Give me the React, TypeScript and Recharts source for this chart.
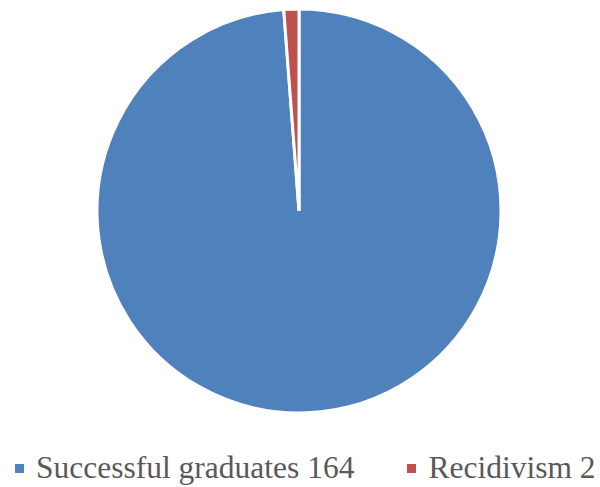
import { PieChart, Pie, Cell, Legend } from "recharts";

const categories: Array<string> = ["Successful graduates", "Recidivism"];
const counts: Array<number> = [164, 2];
const colors: Array<string> = ["#4F81BD", "#C0504D"];

const data = categories.map((name, i) => ({
  name: name + " " + counts[i],
  value: counts[i],
}));

// legend drawn by hand so the order stays as in the data
const renderLegend = () => (
  <div
    style={{
      display: "flex",
      alignItems: "center",
      paddingLeft: 15,
      height: 34,
      fontSize: 31.5,
      lineHeight: "34px",
      color: "#595959",
      whiteSpace: "nowrap",
    }}
  >
    {data.map((entry, index) => (
      <div
        key={index}
        style={{
          display: "flex",
          alignItems: "center",
          marginRight: index === 0 ? 53 : 0,
        }}
      >
        <span
          style={{
            width: 9,
            height: 9,
            background: colors[index],
            display: "inline-block",
            marginRight: 12,
          }}
        />
        <span style={{ fontFamily: "Liberation Serif" }}>{entry.name}</span>
      </div>
    ))}
  </div>
);

const App = () => {
  return (
    <div style={{ position: "absolute", left: 0, top: 0, background: "#fff" }}>
      <PieChart width={600} height={487} margin={{ top: 0, right: 0, bottom: 0, left: 0 }}>
        <Pie
          data={data}
          dataKey="value"
          nameKey="name"
          cx={299}
          cy={211}
          outerRadius={202}
          startAngle={90}
          endAngle={-270}
          stroke="#ffffff"
          strokeWidth={3}
          isAnimationActive={false}
        >
          {data.map((_, i) => (
            <Cell key={i} fill={colors[i]} />
          ))}
        </Pie>
        <Legend
          content={renderLegend}
          wrapperStyle={{ position: "absolute", left: 0, top: 451, width: 600, height: 34 }}
        />
      </PieChart>
    </div>
  );
};

export default App;
